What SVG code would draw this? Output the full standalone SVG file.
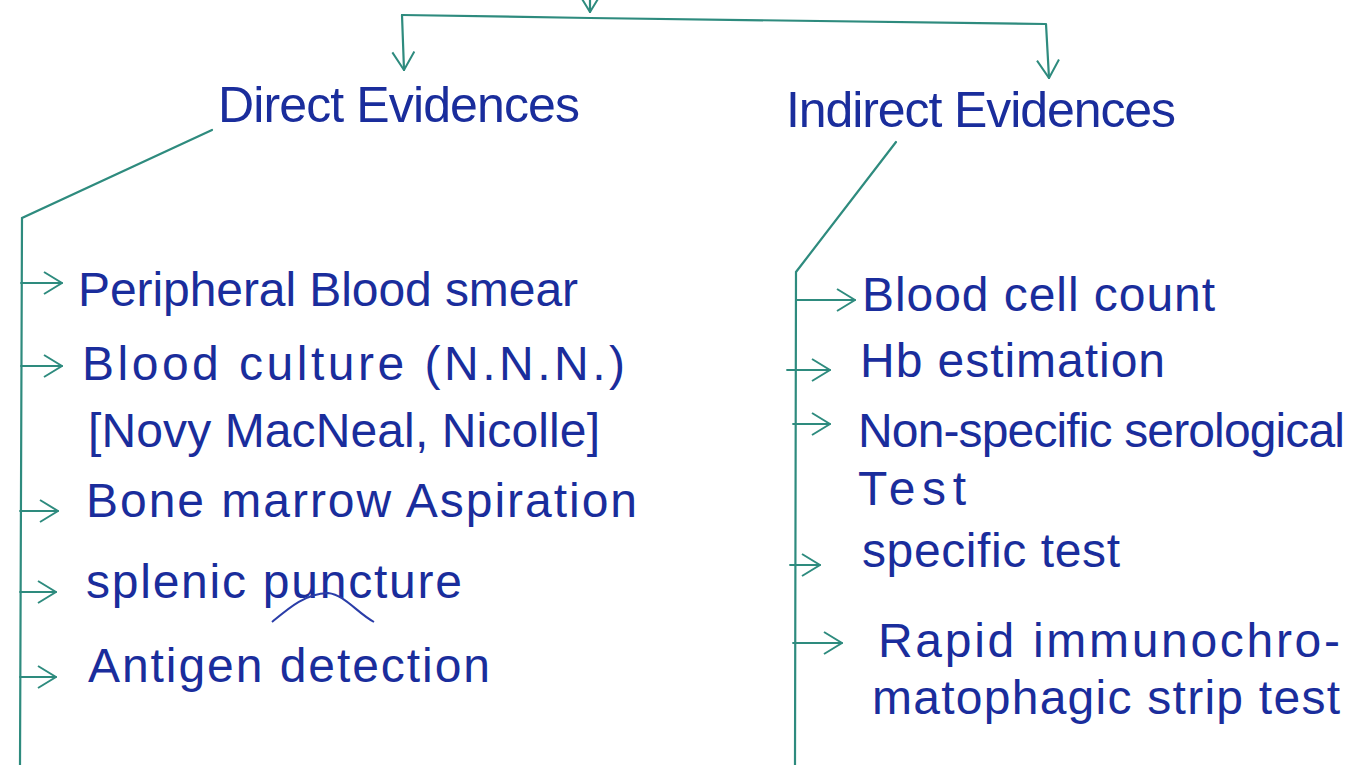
<svg xmlns="http://www.w3.org/2000/svg" width="1360" height="765" viewBox="0 0 1360 765">
<defs>
<marker id="chevL" viewBox="0 0 20 24" refX="19" refY="12" markerWidth="20" markerHeight="24" markerUnits="userSpaceOnUse" orient="auto">
<path d="M1,1 L19,12 L1,23" fill="none" stroke="#2e8b7e" stroke-width="2"/>
</marker>
<style>
.ln{fill:none;stroke:#2e8b7e;stroke-width:2.2;stroke-linecap:round}
.st{fill:none;stroke:#2e8b7e;stroke-width:1.8;stroke-linecap:round}
.h{font-family:"Liberation Sans",Arial,sans-serif;font-size:50px;fill:#1a2d9c}
.t{font-family:"Liberation Sans",Arial,sans-serif;font-size:48px;fill:#1a2d9c}
</style>
</defs>
<rect width="1360" height="765" fill="#ffffff"/>
<g id="connectors">
<path class="ln" d="M590,0 L590,12" marker-end="url(#chevL)"/>
<path class="ln" d="M402,15 L590,18 L1045,24"/>
<path class="ln" d="M402,15 L404,70" marker-end="url(#chevL)"/>
<path class="ln" d="M1046,24 L1049,78" marker-end="url(#chevL)"/>
<path class="ln" d="M212,130 L22,218 L20,765"/>
<path class="ln" d="M896,142 L796,272 L795,765"/>
<path class="st" d="M21,283 L62,283" marker-end="url(#chevL)"/>
<path class="st" d="M21,366 L62,366" marker-end="url(#chevL)"/>
<path class="st" d="M20,511 L58,511" marker-end="url(#chevL)"/>
<path class="st" d="M20,592 L56,592" marker-end="url(#chevL)"/>
<path class="st" d="M20,677 L56,677" marker-end="url(#chevL)"/>
<path class="st" d="M796,300 L855,300" marker-end="url(#chevL)"/>
<path class="st" d="M787,370 L830,370" marker-end="url(#chevL)"/>
<path class="st" d="M793,424 L830,424" marker-end="url(#chevL)"/>
<path class="st" d="M790,565 L820,565" marker-end="url(#chevL)"/>
<path class="st" d="M793,643 L842,643" marker-end="url(#chevL)"/>
</g>
<g id="direct-evidences">
<text class="h" x="218" y="122" textLength="362">Direct Evidences</text>
</g>
<g id="indirect-evidences">
<text class="h" x="786" y="127" textLength="390">Indirect Evidences</text>
</g>
<g id="direct-items">
<text class="t" x="78" y="306" textLength="500">Peripheral Blood smear</text>
<text class="t" x="82" y="380" textLength="543">Blood culture (N.N.N.)</text>
<text class="t" x="88" y="447" textLength="512">[Novy MacNeal, Nicolle]</text>
<text class="t" x="86" y="517" textLength="551">Bone marrow Aspiration</text>
<text class="t" x="86" y="598" textLength="376">splenic puncture</text>
<path d="M272,622 C290,607 305,594 328,593 C345,595 356,612 374,622" fill="none" stroke="#2a3da8" stroke-width="2"/>
<text class="t" x="88" y="682" textLength="402">Antigen detection</text>
</g>
<g id="indirect-items">
<text class="t" x="862" y="311" textLength="353">Blood cell count</text>
<text class="t" x="860" y="377" textLength="305">Hb estimation</text>
<text class="t" x="858" y="447" textLength="487">Non-specific serological</text>
<text class="t" x="858" y="505" textLength="108">Test</text>
<text class="t" x="862" y="567" textLength="258">specific test</text>
<text class="t" x="878" y="657" textLength="462">Rapid immunochro-</text>
<text class="t" x="872" y="714" textLength="468">matophagic strip test</text>
</g>
</svg>
